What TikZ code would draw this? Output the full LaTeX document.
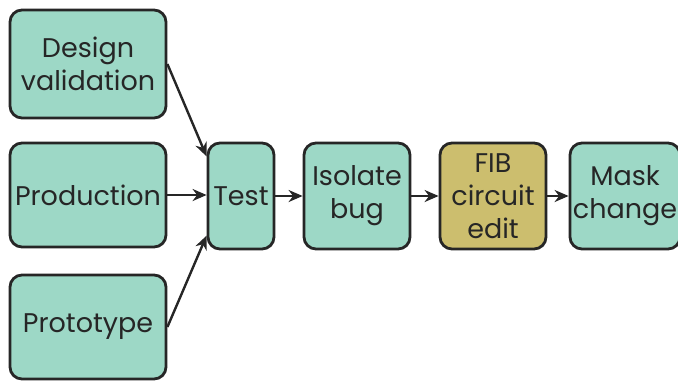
\documentclass[tikz,border=0pt]{standalone}
\usepackage{fontspec}
\setmainfont{Poppins}
\usetikzlibrary{arrows.meta}
\definecolor{boxteal}{HTML}{9DD8C6}
\definecolor{boxolive}{HTML}{CCBE6E}
\definecolor{boxline}{HTML}{262626}
\tikzset{
  box/.style={shape=rectangle,rounded corners=6pt,draw=boxline,line width=1.4pt,
    fill=boxteal,align=center,inner sep=0pt,font=\fontsize{13.5}{16.5}\selectfont,text=boxline},
  arr/.style={-{Stealth[length=7pt,width=6pt]},line width=1.2pt,draw=boxline}
}
\begin{document}
\begin{tikzpicture}[x=0.5pt,y=-0.5pt]
            	\useasboundingbox (0,0) rectangle (678,381);
            	
            	\node[box,minimum width=78pt,minimum height=54pt] (dv)    at (88, 64)  {Design\\validation};
            	\node[box,minimum width=78pt,minimum height=52pt] (prod)  at (88, 195) {Production};
            	\node[box,minimum width=78pt,minimum height=52pt] (proto) at (88, 327) {Prototype};
            	\node[box,minimum width=33pt,minimum height=53pt] (test)  at (241, 196) {Test};
            	\node[box,minimum width=53pt,minimum height=53pt] (iso)   at (357, 196) {Isolate\\bug};
            	\node[box,minimum width=53pt,minimum height=53pt,fill=boxolive] (fib) at (493, 196) {FIB\\circuit\\edit};
            	\node[box,minimum width=55pt,minimum height=53pt] (mask)  at (625, 196) {Mask\\change};
            
            	\draw[arr] (dv.east) -- (test.131);
            	\draw[arr] (prod.east) -- (test.west |- prod.east);
            	\draw[arr] (proto.east) -- (test.229);
            	\draw[arr] (test.east) -- (iso.west);
            	\draw[arr] (iso.east) -- (fib.west);
            	\draw[arr] (fib.east) -- (mask.west);
            	\end{tikzpicture}
\end{document}
